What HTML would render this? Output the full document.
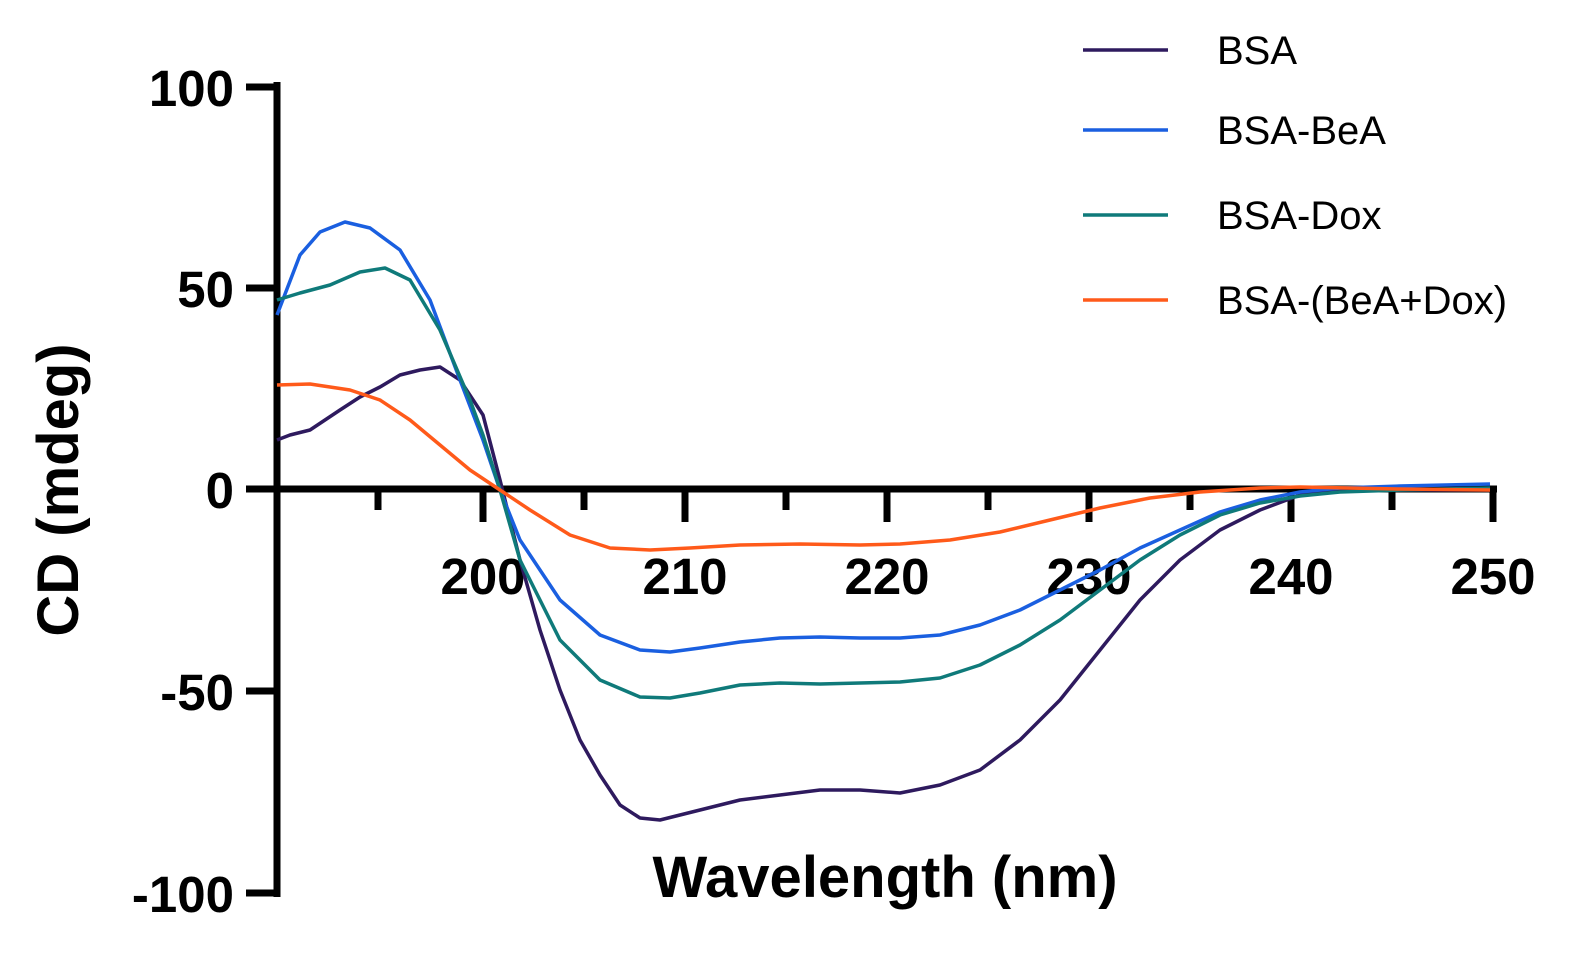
<!DOCTYPE html>
<html><head><style>body{margin:0;background:#fff}svg{display:block}</style></head><body>
<svg width="1595" height="955" viewBox="0 0 1595 955" xmlns="http://www.w3.org/2000/svg" font-family="Liberation Sans, Arial, sans-serif">
<g stroke="#000" stroke-width="7" fill="none">
<line x1="277" y1="82" x2="277" y2="897"/>
<line x1="274" y1="489" x2="1497" y2="489"/>
<line x1="246" y1="87" x2="277" y2="87"/>
<line x1="246" y1="288" x2="277" y2="288"/>
<line x1="246" y1="489" x2="277" y2="489"/>
<line x1="246" y1="691" x2="277" y2="691"/>
<line x1="246" y1="893" x2="277" y2="893"/>
<line x1="378" y1="489" x2="378" y2="510"/>
<line x1="483" y1="489" x2="483" y2="522"/>
<line x1="584" y1="489" x2="584" y2="510"/>
<line x1="685" y1="489" x2="685" y2="522"/>
<line x1="786" y1="489" x2="786" y2="510"/>
<line x1="887" y1="489" x2="887" y2="522"/>
<line x1="988" y1="489" x2="988" y2="510"/>
<line x1="1089" y1="489" x2="1089" y2="522"/>
<line x1="1190" y1="489" x2="1190" y2="510"/>
<line x1="1291" y1="489" x2="1291" y2="522"/>
<line x1="1392" y1="489" x2="1392" y2="510"/>
<line x1="1493" y1="489" x2="1493" y2="522"/>
</g>
<g font-size="51" font-weight="bold" text-anchor="end">
<text x="234" y="106">100</text>
<text x="234" y="307">50</text>
<text x="234" y="508">0</text>
<text x="234" y="710">-50</text>
<text x="234" y="912">-100</text>
</g>
<g font-size="51" font-weight="bold" text-anchor="middle">
<text x="483" y="594">200</text>
<text x="685" y="594">210</text>
<text x="887" y="594">220</text>
<text x="1089" y="594">230</text>
<text x="1291" y="594">240</text>
<text x="1493" y="594">250</text>
</g>
<text x="885" y="897" font-size="58" font-weight="bold" text-anchor="middle">Wavelength (nm)</text>
<text transform="translate(78,490) rotate(-90)" font-size="58" font-weight="bold" text-anchor="middle">CD (mdeg)</text>
<g fill="none" stroke-width="3.5" stroke-linejoin="round">
<polyline stroke="#2e1a5e" points="277,440 290,435 310,430 340,410 360,397 380,387 400,375 420,370 440,367 460,380 483,415 500,480 520,560 540,630 560,690 580,740 600,775 620,805 640,818 660,820 680,815 700,810 740,800 780,795 820,790 860,790 900,793 940,785 980,770 1020,740 1060,700 1100,650 1140,600 1180,560 1220,530 1260,510 1300,495 1340,490 1400,490 1490,490"/>
<polyline stroke="#1a5fe0" points="277,315 300,255 320,232 345,222 370,228 400,250 430,300 460,380 483,440 500,490 520,540 560,600 600,635 640,650 670,652 700,648 740,642 780,638 820,637 860,638 900,638 940,635 980,625 1020,610 1060,590 1100,570 1140,548 1180,530 1220,512 1260,500 1300,492 1340,488 1400,486 1490,484"/>
<polyline stroke="#0f7a7a" points="277,300 300,293 330,285 360,272 385,268 410,280 440,330 470,400 483,435 500,490 520,560 560,640 600,680 640,697 670,698 700,693 740,685 780,683 820,684 860,683 900,682 940,678 980,665 1020,645 1060,620 1100,590 1140,560 1180,535 1220,515 1260,503 1300,496 1340,492 1400,490 1490,488"/>
<polyline stroke="#ff5a1a" points="277,385 310,384 350,390 380,400 410,420 440,445 470,470 500,490 530,510 570,535 610,548 650,550 690,548 740,545 800,544 860,545 900,544 950,540 1000,532 1050,520 1100,508 1150,498 1200,492 1260,488 1300,487 1400,489 1490,490"/>
</g>
<g stroke-width="3.5">
<line x1="1083" y1="50" x2="1168" y2="50" stroke="#2e1a5e"/>
<line x1="1083" y1="130" x2="1168" y2="130" stroke="#1a5fe0"/>
<line x1="1083" y1="215" x2="1168" y2="215" stroke="#0f7a7a"/>
<line x1="1083" y1="300" x2="1168" y2="300" stroke="#ff5a1a"/>
</g>
<g font-size="40">
<text x="1217" y="64">BSA</text>
<text x="1217" y="144">BSA-BeA</text>
<text x="1217" y="229">BSA-Dox</text>
<text x="1217" y="314">BSA-(BeA+Dox)</text>
</g>
</svg>
</body></html>
